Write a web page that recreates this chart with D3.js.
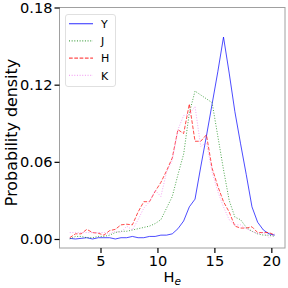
<!DOCTYPE html>
<html>
<head>
<meta charset="utf-8">
<script src="https://cdn.jsdelivr.net/npm/d3@7"></script>
<style>
  body { margin: 0; background: #fff; }
  text { font-family: "DejaVu Sans", sans-serif; }
</style>
</head>
<body>
<svg id="chart"></svg>
<script>
// bin centres (H_e)
let bins = [2.3, 2.8, 3.3, 3.8, 4.3, 4.8, 5.3, 5.8, 6.3, 6.8, 7.3, 7.8, 8.3, 8.8, 9.3, 9.8,
  10.3, 10.8, 11.3, 11.8, 12.3, 12.8, 13.3, 13.8, 14.3, 14.8, 15.3, 15.8, 16.3, 16.8,
  17.3, 17.8, 18.3, 18.8, 19.3, 19.8, 20.3];
let valY = [0.0005, 0.000, 0.0005, 0.001, 0.000, 0.001, 0.001, 0.001, 0.000, 0.001, 0.001,
  0.002, 0.001, 0.001, 0.002, 0.002, 0.003, 0.003, 0.004, 0.008, 0.014, 0.025, 0.031,
  0.056, 0.080, 0.105, 0.130, 0.157, 0.129, 0.099, 0.074, 0.050, 0.025, 0.013, 0.007,
  0.004, 0.003];
let valJ = [0.000, 0.002, 0.002, 0.001, 0.001, 0.002, 0.002, 0.003, 0.005, 0.006, 0.006,
  0.007, 0.008, 0.009, 0.010, 0.012, 0.015, 0.024, 0.033, 0.050, 0.066, 0.098, 0.115,
  0.112, 0.109, 0.106, 0.080, 0.054, 0.030, 0.017, 0.015, 0.009, 0.006, 0.004, 0.003,
  0.003, 0.002];
let valH = [0.001, 0.004, 0.004, 0.0075, 0.005, 0.0045, 0.003, 0.0065, 0.0075, 0.011, 0.0115,
  0.011, 0.021, 0.029, 0.029, 0.037, 0.044, 0.053, 0.063, 0.085, 0.082, 0.105, 0.076,
  0.076, 0.081, 0.055, 0.041, 0.029, 0.021, 0.010, 0.0085, 0.0085, 0.0095, 0.005, 0.005,
  0.005, 0.003];
let valK = [0.005, 0.005, 0.005, 0.005, 0.005, 0.005, 0.005, 0.004, 0.006, 0.005, 0.010,
  0.007, 0.015, 0.024, 0.029, 0.038, 0.033, 0.052, 0.061, 0.085, 0.096, 0.097, 0.103,
  0.072, 0.075, 0.052, 0.037, 0.025, 0.015, 0.011, 0.011, 0.008, 0.006, 0.004, 0.005,
  0.001, 0.004];
let seriesNames = ["Y", "J", "H", "K"];
let xTicks = [5, 10, 15, 20];
let yTicks = [0, 0.06, 0.12, 0.18];

let w = 288;
let h = 288;
let padL = 59.5, padR = 285, padT = 7.5, padB = 248;

let styles = [
  { color: "blue", dash: null },
  { color: "green", dash: "1,1.65" },
  { color: "red", dash: "3.7,1.6" },
  { color: "violet", dash: "1,1.65" }
];
let allVals = [valY, valJ, valH, valK];

let svg = d3.select("#chart").attr("width", w).attr("height", h);

let xScale = d3.scaleLinear().domain([1.4, 21.2]).range([padL, padR]);
let yScale = d3.scaleLinear().domain([-0.007, 0.18]).range([padB, padT]);

// lines
let line = d3.line()
  .x((d) => xScale(d[0]))
  .y((d) => yScale(d[1]));

allVals.forEach((vals, i) => {
  svg.append("path")
    .datum(bins.map((b, j) => [b, vals[j]]))
    .attr("fill", "none")
    .attr("stroke", styles[i].color)
    .attr("stroke-opacity", 0.7)
    .attr("stroke-width", 1)
    .attr("stroke-dasharray", styles[i].dash)
    .attr("d", line);
});

// frame
svg.append("rect")
  .attr("x", padL).attr("y", padT)
  .attr("width", padR - padL).attr("height", padB - padT)
  .attr("fill", "none")
  .attr("stroke", "#a0a0a0")
  .attr("stroke-width", 1);

// axes
let xAxis = d3.axisBottom(xScale).tickValues(xTicks).tickSize(5).tickPadding(3).tickFormat(d3.format("d"));
let yAxis = d3.axisLeft(yScale).tickValues(yTicks).tickSize(5).tickPadding(2).tickFormat(d3.format(".2f"));

let gx = svg.append("g").attr("transform", `translate(0, ${padB})`).call(xAxis);
let gy = svg.append("g").attr("transform", `translate(${padL}, 0)`).call(yAxis);
[gx, gy].forEach((g) => {
  g.select(".domain").remove();
  g.selectAll(".tick line").attr("stroke", "#000").attr("stroke-width", 1.2);
  g.selectAll(".tick text").attr("font-size", 14.6).attr("fill", "#000")
    .attr("font-family", "DejaVu Sans");
});

// axis labels
let xl = svg.append("text")
  .attr("x", (padL + padR) / 2)
  .attr("y", 282)
  .attr("text-anchor", "middle")
  .attr("font-size", 14.6);
xl.append("tspan").text("H");
xl.append("tspan").attr("font-size", 10.5).attr("font-style", "italic").attr("dy", 3).text("e");

svg.append("text")
  .attr("transform", `translate(16.5, 132.5) rotate(-90)`)
  .attr("text-anchor", "middle")
  .attr("font-size", 15.9)
  .text("Probability density");

// legend
let lg = svg.append("g");
lg.append("rect")
  .attr("x", 65.5).attr("y", 14.5)
  .attr("width", 50).attr("height", 72)
  .attr("rx", 2.5)
  .attr("fill", "#fff").attr("fill-opacity", 0.8)
  .attr("stroke", "#d8d8d8").attr("stroke-width", 0.8);
seriesNames.forEach((name, i) => {
  let yy = 23.7 + i * 17.2;
  lg.append("line")
    .attr("x1", 69).attr("x2", 93)
    .attr("y1", yy).attr("y2", yy)
    .attr("stroke", styles[i].color)
    .attr("stroke-opacity", 0.7)
    .attr("stroke-width", 1.2)
    .attr("stroke-dasharray", styles[i].dash);
  lg.append("text")
    .attr("x", 101).attr("y", yy + 4.2)
    .attr("font-size", 11)
    .text(name);
});
</script>
</body>
</html>
